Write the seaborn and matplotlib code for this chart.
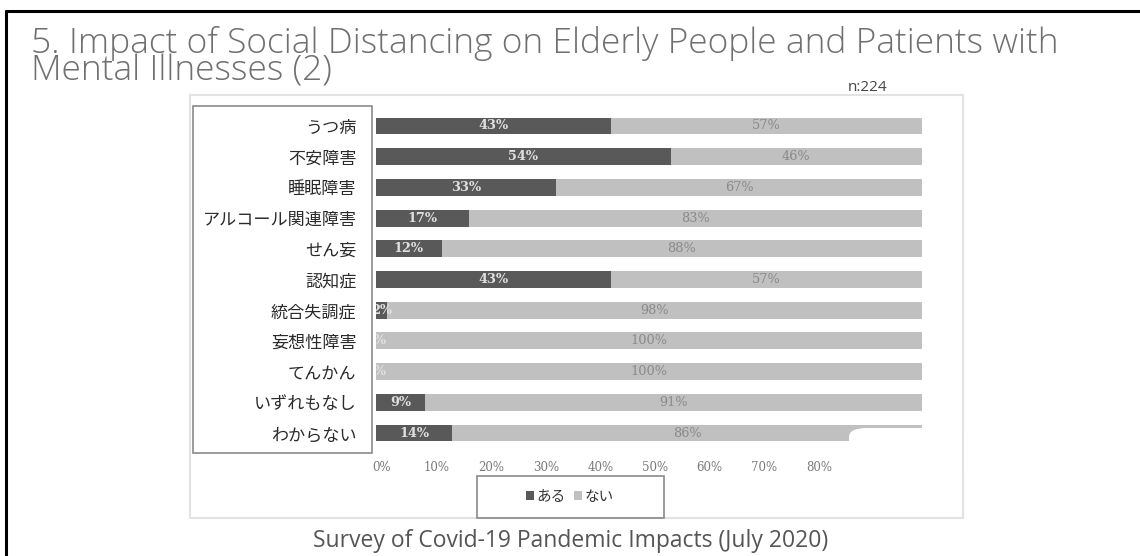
import matplotlib
matplotlib.use("Agg")
import matplotlib.pyplot as plt
import matplotlib.transforms as mtrans
import seaborn as sns
import pandas as pd
from matplotlib.patches import Rectangle, FancyBboxPatch, Patch
from matplotlib.lines import Line2D

# ---- data ----
categories = ["うつ病", "不安障害", "睡眠障害", "アルコール関連障害", "せん妄", "認知症",
              "統合失調症", "妄想性障害", "てんかん", "いずれもなし", "わからない"]
aru = [43, 54, 33, 17, 12, 43, 2, 0, 0, 9, 14]
nai = [57, 46, 67, 83, 88, 57, 98, 100, 100, 91, 86]
series_names = ["ある", "ない"]
xtick_values = [0, 10, 20, 30, 40, 50, 60, 70, 80]
xtick_labels = ["0%", "10%", "20%", "30%", "40%", "50%", "60%", "70%", "80%"]
title = "5. Impact of Social Distancing on Elderly People and Patients with\nMental Illnesses (2)"
n_text = "n:224"
caption = "Survey of Covid-19 Pandemic Impacts (July 2020)"

DARK = "#595959"
LIGHT = "#c0c0c0"
W, H = 1140, 556

sns.set_theme(style="white")
plt.rcParams["font.family"] = ["Noto Sans CJK JP", "DejaVu Sans"]

fig = plt.figure(figsize=(W / 100, H / 100), dpi=100)
fig.patch.set_facecolor("white")


def fx(x):
    return x / W


def fy(y):
    return 1 - y / H


def add_box(x0, y0, x1, y1, **kw):
    r = Rectangle((fx(x0), fy(y1)), fx(x1) - fx(x0), fy(y0) - fy(y1),
                  transform=fig.transFigure, **kw)
    fig.add_artist(r)
    return r


# outer frame (open on right/bottom)
fig.add_artist(Line2D([fx(6), fx(6)], [fy(11), 0], transform=fig.transFigure,
                      color="black", lw=2.2))
fig.add_artist(Line2D([fx(6), 1], [fy(11), fy(11)], transform=fig.transFigure,
                      color="black", lw=2.2))

# inner chart box
add_box(190, 95, 963, 518, fill=False, edgecolor="#e3e3e3", lw=1.5)
# label box
add_box(193, 106, 372, 453, fill=False, edgecolor="#8a8a8a", lw=1.2, zorder=5)

# axes
ax_left, ax_right = 376, 922
ax_top, ax_bottom = 110.6, 448.4
ax = fig.add_axes([fx(ax_left), fy(ax_bottom), fx(ax_right) - fx(ax_left),
                   fy(ax_top) - fy(ax_bottom)])

df = pd.DataFrame({"category": categories, "aru": aru, "nai": nai})
df["total"] = df["aru"] + df["nai"]

sns.barplot(data=df, y="category", x="total", color=LIGHT, saturation=1,
            width=0.55, orient="h", ax=ax, linewidth=0)
sns.barplot(data=df, y="category", x="aru", color=DARK, saturation=1,
            width=0.55, orient="h", ax=ax, linewidth=0)

ax.set_xlim(0, 100)
ax.set_ylim(len(categories) - 0.5, -0.5)
ax.set_xlabel("")
ax.set_ylabel("")
for s in ax.spines.values():
    s.set_visible(False)
ax.set_facecolor("none")

ax.set_xticks(xtick_values)
ax.set_xticklabels(xtick_labels, family=["DejaVu Serif"], fontsize=8.5,
                   color="#7a7a7a")
ax.tick_params(axis="x", length=0, pad=9)
offset = mtrans.ScaledTranslation(6 / 100, 0, fig.dpi_scale_trans)
for lab in ax.get_xticklabels():
    lab.set_transform(lab.get_transform() + offset)
ax.tick_params(axis="y", length=0, pad=14, labelsize=12.3, labelcolor="#2a2a2a")

for i, (a, n) in enumerate(zip(aru, nai)):
    ax.text(a / 2, i, f"{a}%", ha="center", va="center", fontsize=9.3,
            family=["DejaVu Serif"], color="#e0e0e0", fontweight="bold",
            clip_on=True)
    ax.text(a + n / 2, i, f"{n}%", ha="center", va="center", fontsize=9.3,
            family=["DejaVu Serif"], color="#8a8a8a", clip_on=True)

# white rounded artifact near last bar
fig.add_artist(FancyBboxPatch((fx(849), fy(470)), fx(985) - fx(849), fy(428) - fy(470),
                              boxstyle="round,pad=0,rounding_size=0.016",
                              transform=fig.transFigure, facecolor="white",
                              edgecolor="none", zorder=6))
fig.add_artist(Line2D([fx(963), fx(963)], [fy(518), fy(95)], transform=fig.transFigure,
                      color="#e3e3e3", lw=1.5, zorder=7))

# legend
add_box(477, 476, 664, 518, fill=False, edgecolor="#8a8a8a", lw=1.2)
handles = [Patch(facecolor=DARK, edgecolor="none"),
           Patch(facecolor=LIGHT, edgecolor="none")]
fig.legend(handles, series_names, loc="center", bbox_to_anchor=(fx(570), fy(497)),
           ncol=2, frameon=False, handlelength=0.55, handleheight=0.55,
           handletextpad=0.15, columnspacing=0.6, fontsize=10.5,
           labelcolor="#333333")

# titles
fig.text(fx(31), fy(81), title, fontsize=25.5, family=["Open Sans", "DejaVu Sans"],
         fontweight="light", color="#707070", transform=fig.transFigure,
         va="baseline", ha="left", linespacing=0.76)
fig.text(fx(848), fy(91), n_text, fontsize=11, family=["Open Sans", "DejaVu Sans"],
         color="#444444", transform=fig.transFigure, va="baseline", ha="left")
fig.text(fx(571), fy(541), caption, fontsize=16.5, family=["Open Sans", "DejaVu Sans"],
         color="#555555", transform=fig.transFigure, va="center", ha="center")

fig.savefig("out.png", dpi=100, facecolor="white")
